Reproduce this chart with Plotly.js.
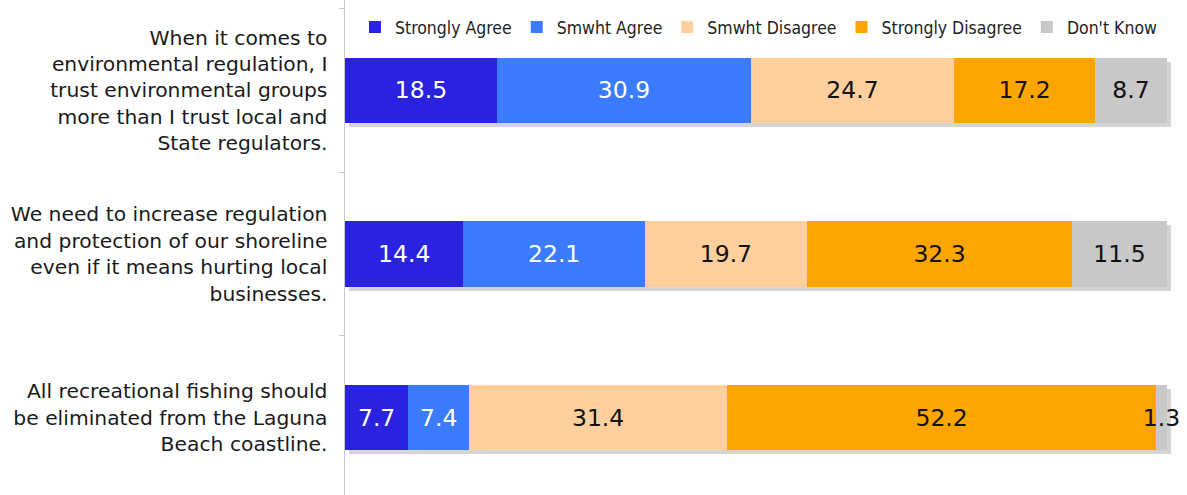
<!DOCTYPE html>
<html>
<head>
<meta charset="utf-8">
<script src="https://cdn.plot.ly/plotly-3.0.1.min.js"></script>
<style>
  html, body { margin: 0; padding: 0; background: #fff; }
  #chart { width: 1187px; height: 495px; }
  #chart .barlayer path { filter: drop-shadow(4px 4px 0px rgba(0,0,0,0.17)); }
</style>
</head>
<body>
<div id="chart"></div>
<script>
const categories = [
  "When it comes to<br>environmental regulation, I<br>trust environmental groups<br>more than I trust local and<br>State regulators.",
  "We need to increase regulation<br>and protection of our shoreline<br>even if it means hurting local<br>businesses.",
  "All recreational fishing should<br>be eliminated from the Laguna<br>Beach coastline."
];
const seriesNames = ["Strongly Agree", "Smwht Agree", "Smwht Disagree", "Strongly Disagree", "Don't Know"];
const stronglyAgree = [18.5, 14.4, 7.7];
const smwhtAgree = [30.9, 22.1, 7.4];
const smwhtDisagree = [24.7, 19.7, 31.4];
const stronglyDisagree = [17.2, 32.3, 52.2];
const dontKnow = [8.7, 11.5, 1.3];
const seriesValues = [stronglyAgree, smwhtAgree, smwhtDisagree, stronglyDisagree, dontKnow];
const seriesColors = ["#2b22e0", "#3a7bff", "#ffd09e", "#ffa500", "#c8c8c8"];
const textColors = ["#ffffff", "#ffffff", "#111111", "#111111", "#111111"];

const traces = seriesNames.map((name, i) => ({
  type: "bar",
  orientation: "h",
  name: name,
  y: categories,
  x: seriesValues[i],
  text: seriesValues[i].map(v => v.toFixed(1)),
  textposition: "inside",
  insidetextanchor: "middle",
  textangle: 0,
  constraintext: "none",
  cliponaxis: false,
  textfont: { family: "DejaVu Sans, Verdana, sans-serif", size: 23.5, color: textColors[i] },
  marker: { color: seriesColors[i], line: { width: 0 } },
  hoverinfo: "skip"
}));

const layout = {
  width: 1187,
  height: 495,
  margin: { l: 345, r: 12, t: 0, b: 0, pad: 0 },
  paper_bgcolor: "#ffffff",
  plot_bgcolor: "#ffffff",
  barmode: "stack",
  bargap: 0.6,
  showlegend: true,
  legend: {
    orientation: "h",
    x: 0.012, xanchor: "left",
    y: 0.945, yanchor: "middle",
    bgcolor: "rgba(0,0,0,0)",
    font: { family: "DejaVu Sans Condensed, DejaVu Sans, sans-serif", size: 17.5, color: "#222" },
    traceorder: "normal",
    itemwidth: 30
  },
  xaxis: {
    range: [0, 101],
    visible: false,
    showgrid: false,
    zeroline: false,
    fixedrange: true
  },
  yaxis: {
    type: "category",
    categoryorder: "array",
    categoryarray: categories,
    range: [2.473, -0.552],
    showline: true,
    linecolor: "#c8c8c8",
    linewidth: 1.5,
    ticks: "outside",
    tickson: "boundaries",
    ticklen: 5,
    tickcolor: "#c8c8c8",
    tickwidth: 1,
    ticklabelstandoff: 12,
    showgrid: false,
    zeroline: false,
    automargin: false,
    tickfont: { family: "DejaVu Sans, Verdana, sans-serif", size: 20.3, color: "#1a1a1a" },
    fixedrange: true
  }
};

Plotly.newPlot("chart", traces, layout, { staticPlot: true, displayModeBar: false });
</script>
</body>
</html>
